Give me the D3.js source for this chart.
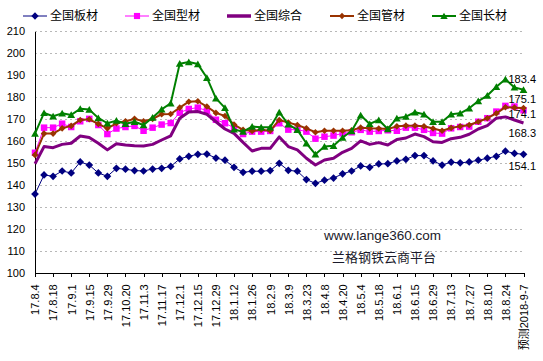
<!DOCTYPE html>
<html><head><meta charset="utf-8">
<script src="https://cdn.jsdelivr.net/npm/d3@7/dist/d3.min.js"></script>
<style>body{margin:0;background:#fff}svg{display:block}</style>
</head><body>
<svg id="chart" width="543" height="361"></svg>
<script>
const categories = ["17.8.4","17.8.11","17.8.18","17.8.25","17.9.1","17.9.8","17.9.15","17.9.22","17.9.29","17.10.13",
"17.10.20","17.10.27","17.11.3","17.11.10","17.11.17","17.11.24","17.12.1","17.12.8","17.12.15","17.12.22",
"17.12.29","18.1.5","18.1.12","18.1.19","18.1.26","18.2.2","18.2.9","18.3.2","18.3.9","18.3.16",
"18.3.23","18.3.30","18.4.8","18.4.13","18.4.20","18.4.27","18.5.4","18.5.11","18.5.18","18.5.25",
"18.6.1","18.6.8","18.6.15","18.6.22","18.6.29","18.7.6","18.7.13","18.7.20","18.7.27","18.8.3",
"18.8.10","18.8.17","18.8.24","18.8.31","预测2018-9-7"];
const yTicks = [100,110,120,130,140,150,160,170,180,190,200,210];
const seriesNames = ["全国板材","全国型材","全国综合","全国管材","全国长材"];
const banCai = [136.0,144.7,144.1,146.5,145.6,150.6,149.2,145.6,144.1,147.7,147.3,146.7,146.5,147.4,147.7,148.6,152.0,153.2,154.1,154.2,
152.4,151.4,148.2,145.9,146.4,146.4,146.7,150.0,146.8,146.4,142.6,140.9,142.3,143.3,145.2,146.5,148.8,148.2,149.7,149.8,
151.1,151.8,153.5,153.5,151.1,149.2,150.5,150.2,150.6,151.4,152.3,153.2,155.5,154.5,154.1];
const xingCai = [154.8,166.2,166.2,168.0,166.5,169.1,170.2,167.4,163.3,165.8,166.5,167.0,164.8,166.2,167.6,168.3,173.0,174.7,175.3,173.9,
169.8,168.2,166.2,163.3,164.4,164.4,164.7,168.2,165.3,165.3,164.4,161.2,162.1,162.6,163.6,164.1,165.2,164.4,164.7,165.0,
164.8,166.2,166.2,165.2,163.8,163.5,165.9,166.5,166.7,168.9,170.5,173.5,176.1,175.8,174.1];
const zongHe = [149.8,157.6,157.1,158.6,159.1,162.4,161.7,159.1,156.1,158.9,158.3,158.0,157.9,158.6,160.6,162.5,170.5,173.3,173.5,172.3,
168.9,165.6,163.6,159.5,155.6,156.8,156.8,162.0,157.6,156.1,152.3,149.2,151.5,152.3,155.0,156.8,160.2,158.6,159.4,158.3,
160.8,161.5,163.3,162.1,159.8,159.5,161.2,161.8,163.2,165.6,167.1,170.5,171.1,169.7,168.3];
const guanCai = [153.8,163.5,163.5,165.9,167.0,169.7,170.0,167.9,165.9,168.2,169.1,170.2,169.1,170.2,172.3,172.4,175.3,178.0,178.2,175.8,
172.9,171.5,167.6,165.2,164.7,165.3,164.8,169.7,168.5,167.4,165.9,164.1,164.8,164.8,164.8,165.0,166.2,165.9,165.8,165.6,
166.8,167.1,167.1,166.8,165.8,164.8,166.1,166.8,167.4,168.9,170.5,172.7,175.5,175.3,175.1];
const changCai = [163.5,172.9,171.4,172.7,172.0,174.8,174.4,170.6,168.2,169.4,168.0,168.9,167.4,170.8,174.5,177.3,195.3,196.0,195.1,188.9,
179.5,175.2,165.4,164.4,166.7,166.4,166.4,173.2,167.7,165.2,159.1,154.1,157.6,158.0,161.7,164.7,171.8,167.9,169.7,165.6,
170.5,171.2,173.2,172.3,168.9,168.9,172.3,172.7,175.0,178.3,180.8,184.8,188.2,184.5,183.4];

const svg = d3.select("#chart");
const plotLeft = 35, plotRight = 523.5, plotTop = 31.3, plotBottom = 273.3;

const x = d3.scalePoint().domain(d3.range(categories.length)).range([plotLeft, plotRight]);
const y = d3.scaleLinear().domain([100, 210]).range([plotBottom, plotTop]);

// marker symbol types
const diamond = { draw(ctx, size) { const r = Math.sqrt(size / 2); ctx.moveTo(0, -r); ctx.lineTo(r, 0); ctx.lineTo(0, r); ctx.lineTo(-r, 0); ctx.closePath(); } };
const square = { draw(ctx, size) { const r = Math.sqrt(size) / 2; ctx.rect(-r, -r, 2 * r, 2 * r); } };
const triangle = { draw(ctx, size) { const r = Math.sqrt(size) / 2; ctx.moveTo(0, -r); ctx.lineTo(r * 1.1, r * 0.9); ctx.lineTo(-r * 1.1, r * 0.9); ctx.closePath(); } };

const series = [
  { name: seriesNames[0], values: banCai, color: "#000080", width: 1, symbol: diamond, size: 30 },
  { name: seriesNames[1], values: xingCai, color: "#FF00FF", width: 1, symbol: square, size: 42 },
  { name: seriesNames[2], values: zongHe, color: "#800080", width: 3, symbol: null },
  { name: seriesNames[3], values: guanCai, color: "#993300", width: 2, symbol: diamond, size: 22 },
  { name: seriesNames[4], values: changCai, color: "#008000", width: 2, symbol: triangle, size: 50 }
];

// gridlines
svg.append("g").selectAll("line").data(yTicks.filter(v => v > 100)).join("line")
  .attr("x1", plotLeft).attr("x2", plotRight + 1)
  .attr("y1", d => y(d)).attr("y2", d => y(d))
  .attr("stroke", "#b8b8b8").attr("stroke-width", 1).attr("stroke-dasharray", "2,3")
  .attr("shape-rendering", "crispEdges");

// y axis
const yAxis = svg.append("g").attr("transform", `translate(${plotLeft},0)`)
  .call(d3.axisLeft(y).tickValues(yTicks).tickSize(0).tickPadding(10));
yAxis.select(".domain").attr("stroke", "#000").attr("shape-rendering", "crispEdges");
yAxis.selectAll("text").attr("font-family", "Liberation Sans, Arial, sans-serif").attr("font-size", 11).attr("fill", "#000");

// x axis
const evenIdx = d3.range(0, categories.length, 2);
const xAxis = svg.append("g").attr("transform", `translate(0,${plotBottom})`)
  .call(d3.axisBottom(x).tickValues(evenIdx).tickSize(4).tickSizeOuter(0).tickFormat(i => categories[i]));
xAxis.select(".domain").attr("stroke", "#000").attr("shape-rendering", "crispEdges");
xAxis.selectAll(".tick line").attr("stroke", "#000").attr("shape-rendering", "crispEdges");
xAxis.selectAll("text")
  .attr("font-family", "Liberation Sans, Arial, 'Noto Sans CJK SC', sans-serif").attr("font-size", 11).attr("fill", "#000")
  .attr("transform", "rotate(-90)").attr("text-anchor", "end")
  .attr("x", -11).attr("y", 0).attr("dy", "0.35em");

// watermark
svg.append("text").attr("x", 324).attr("y", 240).text("www.lange360.com")
  .attr("font-family", "Liberation Sans, Arial, sans-serif").attr("font-size", 13.5).attr("fill", "#1a1a2a");
svg.append("text").attr("x", 332).attr("y", 261.5).text("兰格钢铁云商平台")
  .attr("font-family", "'Noto Sans CJK SC', sans-serif").attr("font-size", 13).attr("fill", "#1a1a2a");

// series
const line = d3.line().x((d, i) => x(i)).y(d => y(d));
series.forEach(s => {
  const g = svg.append("g");
  g.append("path").attr("d", line(s.values)).attr("fill", "none")
    .attr("stroke", s.color).attr("stroke-width", s.width).attr("stroke-linejoin", "round");
  if (s.symbol) {
    const sym = d3.symbol().type(s.symbol).size(s.size);
    g.selectAll("path.m").data(s.values).join("path").attr("class", "m")
      .attr("transform", (d, i) => `translate(${x(i)},${y(d)})`)
      .attr("d", sym).attr("fill", s.color);
  }
});

// end value labels
const lastIdx = categories.length - 1;
const endLabels = [
  { values: changCai, dy: -10.5 },
  { values: guanCai, dy: -8.5 },
  { values: xingCai, dy: 3.5 },
  { values: zongHe, dy: 10 },
  { values: banCai, dy: 12 }
];
svg.append("g").selectAll("text").data(endLabels).join("text")
  .attr("x", x(lastIdx) - 15).attr("y", d => y(d.values[lastIdx]) + d.dy)
  .attr("dy", "0.35em").text(d => d.values[lastIdx].toFixed(1))
  .attr("font-family", "Liberation Sans, Arial, sans-serif").attr("font-size", 11).attr("fill", "#000");

// legend
const legendX = [23, 125, 227, 330, 432];
const lg = svg.append("g");
series.forEach((s, k) => {
  const x0 = legendX[k], yc = 16;
  lg.append("line").attr("x1", x0).attr("x2", x0 + 24).attr("y1", yc).attr("y2", yc)
    .attr("stroke", s.color).attr("stroke-width", Math.max(s.width, 1) + (k === 2 ? 0.5 : 0));
  if (s.symbol) {
    lg.append("path").attr("transform", `translate(${x0 + 12},${yc})`)
      .attr("d", d3.symbol().type(s.symbol).size(s.size * 0.9)).attr("fill", s.color);
  }
  lg.append("text").attr("x", x0 + 27).attr("y", yc).attr("dy", "0.35em").text(s.name)
    .attr("font-family", "'Noto Sans CJK SC', sans-serif").attr("font-size", 12).attr("fill", "#000");
});
</script>
</body></html>
